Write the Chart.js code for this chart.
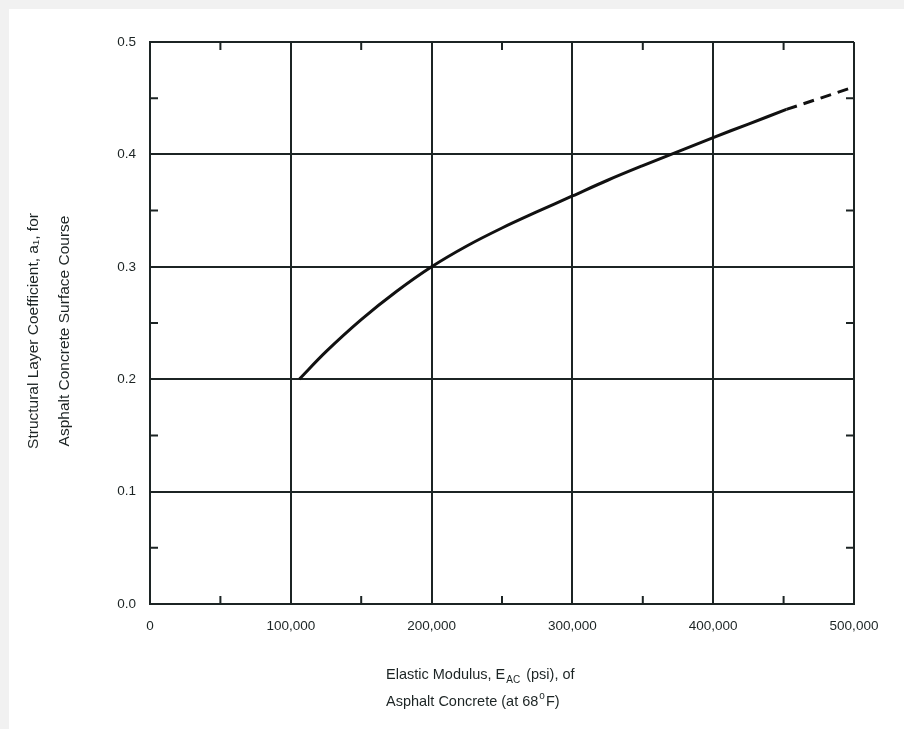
<!DOCTYPE html>
<html>
<head>
<meta charset="utf-8">
<script src="https://cdn.jsdelivr.net/npm/chart.js@4"></script>
<style>
  html, body { margin: 0; padding: 0; background: #f1f1f1; }
  #wrap { position: absolute; left: 0; top: 0; width: 904px; height: 729px; }
</style>
</head>
<body>
<div id="wrap"><canvas id="c" width="904" height="729"></canvas></div>
<script>
// ---- Data ----
const modulusSolid = [106000, 125000, 150000, 175000, 200000, 225000, 250000, 275000, 300000, 325000, 350000, 375000, 400000, 425000, 452000];
const coeffSolid   = [0.200, 0.2245, 0.253, 0.278, 0.300, 0.3185, 0.3345, 0.349, 0.363, 0.377, 0.390, 0.4025, 0.415, 0.427, 0.440];
const modulusDashed = [452000, 500000];
const coeffDashed   = [0.440, 0.460];
const xTicks = [0, 100000, 200000, 300000, 400000, 500000];
const yTicks = [0.0, 0.1, 0.2, 0.3, 0.4, 0.5];
const xMinorTicks = [50000, 150000, 250000, 350000, 450000];
const yMinorTicks = [0.05, 0.15, 0.25, 0.35, 0.45];

const solidPts = modulusSolid.map((x, i) => ({ x: x, y: coeffSolid[i] }));
const dashedPts = modulusDashed.map((x, i) => ({ x: x, y: coeffDashed[i] }));

const INK = '#1c2424';
const FONT = '"Liberation Sans", Arial, Helvetica, sans-serif';

const bgPlugin = {
  id: 'bg',
  beforeDraw(chart) {
    const ctx = chart.ctx;
    ctx.save();
    ctx.fillStyle = '#f1f1f1';
    ctx.fillRect(0, 0, chart.width, chart.height);
    ctx.fillStyle = '#ffffff';
    ctx.fillRect(9, 9, chart.width - 9, chart.height - 9);
    ctx.restore();
  }
};

const minorTickPlugin = {
  id: 'minorTicks',
  afterDatasetsDraw(chart) {
    const ctx = chart.ctx, xs = chart.scales.x, ys = chart.scales.y;
    const a = chart.chartArea;
    const L = 8;
    ctx.save();
    ctx.strokeStyle = INK;
    ctx.lineWidth = 2;
    ctx.beginPath();
    xMinorTicks.forEach(v => {
      const px = xs.getPixelForValue(v);
      ctx.moveTo(px, a.bottom); ctx.lineTo(px, a.bottom - L);
      ctx.moveTo(px, a.top); ctx.lineTo(px, a.top + L);
    });
    yMinorTicks.forEach(v => {
      const py = ys.getPixelForValue(v);
      ctx.moveTo(a.left, py); ctx.lineTo(a.left + L, py);
      ctx.moveTo(a.right, py); ctx.lineTo(a.right - L, py);
    });
    ctx.stroke();
    ctx.restore();
  }
};

const titlePlugin = {
  id: 'axisTitles',
  afterDraw(chart) {
    const ctx = chart.ctx, a = chart.chartArea;
    ctx.save();
    ctx.fillStyle = INK;
    // X axis title (two lines, with subscript)
    const fs = 14.5;
    ctx.font = fs + 'px ' + FONT;
    ctx.textBaseline = 'alphabetic';
    ctx.textAlign = 'left';
    let x = 386, y1 = 679;
    const p1 = 'Elastic Modulus, E';
    ctx.fillText(p1, x, y1);
    x += ctx.measureText(p1).width;
    ctx.font = '10px ' + FONT;
    ctx.fillText('AC', x + 1, y1 + 4);
    x += ctx.measureText('AC').width + 3;
    ctx.font = fs + 'px ' + FONT;
    ctx.fillText(' (psi), of', x, y1);
    // line 2
    const y2 = 706;
    let x2 = 386;
    const q1 = 'Asphalt Concrete (at 68';
    ctx.fillText(q1, x2, y2);
    x2 += ctx.measureText(q1).width;
    ctx.font = '10px ' + FONT;
    ctx.fillText('o', x2 + 1, y2 - 7);
    x2 += ctx.measureText('o').width + 2;
    ctx.font = fs + 'px ' + FONT;
    ctx.fillText('F)', x2, y2);

    // Y axis title (two lines, rotated)
    const cy = (a.top + a.bottom) / 2 + 8;
    ctx.translate(0, cy);
    ctx.rotate(-Math.PI / 2);
    ctx.textAlign = 'center';
    ctx.textBaseline = 'middle';
    ctx.font = '15.5px ' + FONT;
    ctx.fillText('Structural Layer Coefficient, a\u2081, for', 0, 34);
    ctx.fillText('Asphalt Concrete Surface Course', 0, 65);
    ctx.restore();
  }
};

new Chart(document.getElementById('c'), {
  type: 'scatter',
  data: {
    datasets: [
      {
        data: solidPts,
        showLine: true,
        borderColor: '#111111',
        borderWidth: 3,
        pointRadius: 0,
        tension: 0.35,
        fill: false
      },
      {
        data: dashedPts,
        showLine: true,
        borderColor: '#111111',
        borderWidth: 3,
        borderDash: [11, 7],
        pointRadius: 0,
        fill: false
      }
    ]
  },
  options: {
    responsive: false,
    animation: false,
    devicePixelRatio: 1,
    layout: { padding: { left: 0, top: 42, right: 50, bottom: 0 } },
    plugins: {
      legend: { display: false },
      tooltip: { enabled: false },
      title: { display: false }
    },
    scales: {
      x: {
        type: 'linear',
        min: 0, max: 500000,
        afterBuildTicks(scale) { scale.ticks = xTicks.map(v => ({ value: v })); },
        afterFit(scale) { scale.height = 125; },
        ticks: {
          color: INK,
          font: { family: FONT, size: 13.5 },
          padding: 14,
          maxRotation: 0,
          callback: v => v.toLocaleString('en-US')
        },
        grid: { color: INK, lineWidth: 2, drawTicks: false },
        border: { display: true, color: INK, width: 2 }
      },
      y: {
        type: 'linear',
        min: 0, max: 0.5,
        afterBuildTicks(scale) { scale.ticks = yTicks.map(v => ({ value: v })); },
        afterFit(scale) { scale.width = 150; },
        ticks: {
          color: INK,
          font: { family: FONT, size: 13.5 },
          padding: 14,
          callback: v => Number(v).toFixed(1)
        },
        grid: { color: INK, lineWidth: 2, drawTicks: false },
        border: { display: true, color: INK, width: 2 }
      }
    }
  },
  plugins: [bgPlugin, minorTickPlugin, titlePlugin]
});
</script>
</body>
</html>
